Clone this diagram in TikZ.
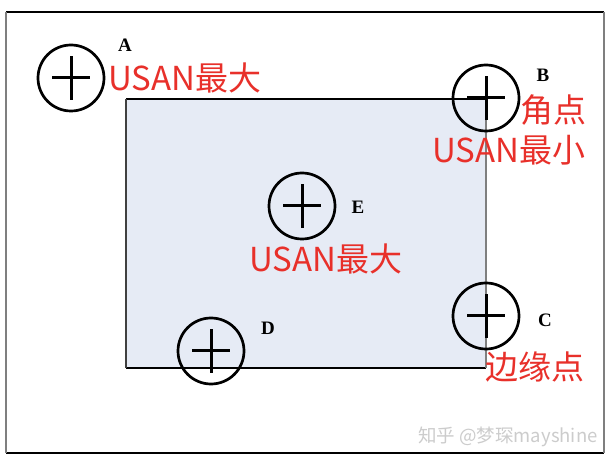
\documentclass[tikz,border=0pt]{standalone}
\usepackage{fontspec}
\setmainfont{Liberation Serif}
\newfontfamily\cjk{Noto Sans CJK SC}
\usepackage{tikz}
\pgfdeclarelayer{background}
\pgfdeclarelayer{foreground}
\pgfsetlayers{background,main,foreground}
\definecolor{usanred}{HTML}{E8302A}
\definecolor{regionblue}{HTML}{E6EBF5}
\definecolor{framegray}{HTML}{7F7F7F}
\tikzset{
  usanmask/.style={circle, draw, line width=2.7pt, minimum size=66pt, inner sep=0pt,
    path picture={\draw[line width=3pt] ([xshift=-19pt]path picture bounding box.center) -- ([xshift=19pt]path picture bounding box.center);
      \draw[line width=3pt] ([yshift=-22pt]path picture bounding box.center) -- ([yshift=22pt]path picture bounding box.center);}},
  pointname/.style={font=\fontsize{19}{19}\selectfont\bfseries, inner sep=0pt},
  usantext/.style={font=\cjk\fontsize{33}{33}\selectfont, text=usanred, inner sep=0pt, anchor=west}
}
\begin{document}
\begin{tikzpicture}[x=1pt,y=-1pt]
\useasboundingbox (0,0) rectangle (614,465);
\begin{pgfonlayer}{background}
\fill[white] (0,0) rectangle (614,465);
\fill[regionblue] (126,99) rectangle (486,368);
\draw[line width=1.8pt] (126,99) -- (486,99);
\draw[line width=1.8pt] (126,368) -- (486,368);
\draw[line width=1.4pt, black!75] (126,99) -- (126,368);
\draw[line width=1.4pt, framegray] (486,99) -- (486,368);
\end{pgfonlayer}
% outer frame
\draw[line width=2.8pt] (6,12) -- (604,12);
\draw[line width=2.8pt] (6,453) -- (604,453);
\draw[line width=1.6pt, framegray] (6,12) -- (6,453);
\draw[line width=1.6pt, framegray] (604,12) -- (604,453);
\begin{pgfonlayer}{foreground}
\node[usanmask] (maskA) at (71,78) {};
\node[usanmask] (maskB) at (486,98) {};
\node[usanmask] (maskC) at (486,316) {};
\node[usanmask] (maskD) at (211,351) {};
\node[usanmask] (maskE) at (302,206) {};
\end{pgfonlayer}
\node[pointname] (nameA) at (125,45) {A};
\node[pointname] (nameB) at (543,75) {B};
\node[pointname] (nameC) at (545,320) {C};
\node[pointname] (nameD) at (268,328) {D};
\node[pointname] (nameE) at (358,207) {E};
\node[usantext] (textA) at (108,78) {USAN最大};
\node[usantext] (textB1) at (520,110) {角点};
\node[usantext] (textB2) at (432,150) {USAN最小};
\node[usantext] (textE) at (249,259) {USAN最大};
\node[usantext] (textC) at (485,367) {边缘点};
\node[font=\cjk\fontsize{18.5}{18.5}\selectfont, text=black!20, inner sep=0pt, anchor=west] (mark) at (418,437) {知乎 @梦琛mayshine};
\end{tikzpicture}
\end{document}
